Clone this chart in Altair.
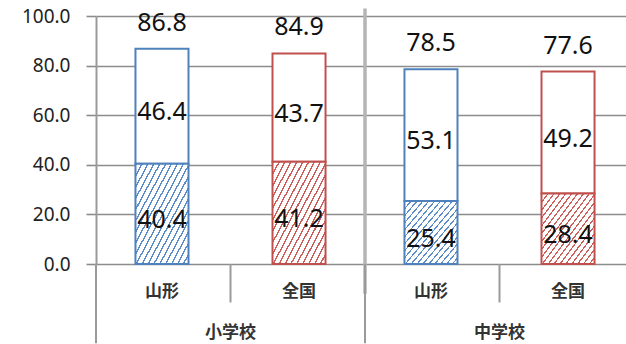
import altair as alt
import pandas as pd

schools = ["小学校", "小学校", "中学校", "中学校"]
regions = ["山形", "全国", "山形", "全国"]
lower_vals = [40.4, 41.2, 25.4, 28.4]
upper_vals = [46.4, 43.7, 53.1, 49.2]
total_vals = [86.8, 84.9, 78.5, 77.6]
school_order = ["小学校", "中学校"]
region_order = ["山形", "全国"]
y_ticks = [0, 10, 20, 30, 40, 50, 60, 70, 80, 90, 100]

BLUE = "#4f81bd"
RED = "#c0504d"
BLUE_HATCH = "#5b8cc9"
RED_HATCH = "#cc5f5c"

df = pd.DataFrame({
    "school": schools,
    "region": regions,
    "lower": lower_vals,
    "upper": upper_vals,
    "total": total_vals,
})
df["lower_mid"] = df["lower"] / 2
df["upper_mid"] = df["lower"] + df["upper"] / 2

schools_df = pd.DataFrame({"school": school_order})


def hatch(color, n=18, f=0.26):
    stops = []
    for k in range(n):
        a = k / n
        b = (k + f) / n
        c = (k + 1) / n
        stops += [
            alt.GradientStop(offset=a, color=color),
            alt.GradientStop(offset=b, color=color),
            alt.GradientStop(offset=b, color="white"),
            alt.GradientStop(offset=c, color="white"),
        ]
    return alt.LinearGradient(gradient="linear", stops=stops, x1=0, y1=0, x2=1, y2=1)


xscale = alt.Scale(domain=school_order, paddingInner=0, paddingOuter=0, range=[0, 538])
xs = alt.X("school:N", scale=xscale, axis=None)
xo = alt.XOffset("region:N", scale=alt.Scale(domain=region_order, paddingInner=0.613, paddingOuter=0.288))
ysc = alt.Scale(domain=[0, 100], nice=False, zero=True)

base = alt.Chart(df)

y_axis = alt.Axis(
    values=y_ticks,
    title=None,
    grid=True,
    gridColor={"expr": "datum.value % 20 == 0 ? '#8c8c8c' : '#c8c8c8'"},
    gridWidth=1.6,
    tickColor={"expr": "datum.value % 20 == 0 ? '#8c8c8c' : 'transparent'"},
    tickSize=10,
    tickWidth=1.6,
    labelExpr="datum.value % 20 == 0 ? format(datum.value, '.1f') : ''",
    labelFont="Noto Sans",
    labelFontSize=19,
    labelColor="#222222",
    labelPadding=16,
    domainColor="#9a9a9a",
    domainWidth=2,
)

color_scale = alt.Scale(domain=region_order, range=[BLUE, RED])

top_bars = base.mark_bar(fill="white", strokeWidth=2).encode(
    x=xs, xOffset=xo,
    y=alt.Y("lower:Q", scale=ysc, axis=y_axis),
    y2="total:Q",
    stroke=alt.Stroke("region:N", scale=color_scale, legend=None),
)

low_blue = base.transform_filter(alt.datum.region == "山形").mark_bar(
    fill=hatch(BLUE_HATCH), stroke=BLUE, strokeWidth=2
).encode(x=xs, xOffset=xo, y=alt.Y("lower:Q", scale=ysc), y2=alt.Y2(datum=0))

low_red = base.transform_filter(alt.datum.region == "全国").mark_bar(
    fill=hatch(RED_HATCH), stroke=RED, strokeWidth=2
).encode(x=xs, xOffset=xo, y=alt.Y("lower:Q", scale=ysc), y2=alt.Y2(datum=0))

txt_kw = dict(font="Noto Sans", fontSize=25, color="#111111", baseline="middle", align="center")

total_text = base.mark_text(dy=-26, **txt_kw).encode(
    x=xs, xOffset=xo, y=alt.Y("total:Q", scale=ysc), text=alt.Text("total:Q", format=".1f"))
upper_text = base.mark_text(dy=6, **txt_kw).encode(
    x=xs, xOffset=xo, y=alt.Y("upper_mid:Q", scale=ysc), text=alt.Text("upper:Q", format=".1f"))
lower_text = base.mark_text(dy=6, **txt_kw).encode(
    x=xs, xOffset=xo, y=alt.Y("lower_mid:Q", scale=ysc), text=alt.Text("lower:Q", format=".1f"))

cjk_kw = dict(font="Noto Sans CJK JP", fontSize=17, fontWeight="bold", color="#333333",
              baseline="middle", align="center")

region_text = base.mark_text(dy=28, **cjk_kw).encode(
    x=xs, xOffset=xo, y=alt.Y(datum=0, scale=ysc), text="region:N")

school_text = alt.Chart(schools_df).mark_text(dy=69, **cjk_kw).encode(
    x=xs, y=alt.Y(datum=0, scale=ysc), text="school:N")

# separators of the two-level category axis
sub_sep = alt.Chart(schools_df).mark_rule(color="#9a9a9a", strokeWidth=2).encode(
    x=alt.X("school:N", scale=xscale, bandPosition=0.5, axis=None),
    y=alt.Y(datum=0, scale=ysc), y2=alt.Y2(datum=-15.5))

left_line = alt.Chart(schools_df).transform_filter(alt.datum.school == "小学校").mark_rule(
    color="#9a9a9a", strokeWidth=2).encode(
    x=alt.X("school:N", scale=xscale, bandPosition=0, axis=None),
    y=alt.Y(datum=0, scale=ysc), y2=alt.Y2(datum=-32))

mid_line = alt.Chart(schools_df).transform_filter(alt.datum.school == "中学校").mark_rule(
    color="#b4b4b4", strokeWidth=3.5).encode(
    x=alt.X("school:N", scale=xscale, bandPosition=0, axis=None),
    y=alt.Y(datum=103, scale=ysc), y2=alt.Y2(datum=-12))

mid_line2 = alt.Chart(schools_df).transform_filter(alt.datum.school == "中学校").mark_rule(
    color="#9a9a9a", strokeWidth=2).encode(
    x=alt.X("school:N", scale=xscale, bandPosition=0, axis=None),
    y=alt.Y(datum=0, scale=ysc), y2=alt.Y2(datum=-32))

chart = alt.layer(
    top_bars, low_blue, low_red, left_line, mid_line, mid_line2, sub_sep,
    total_text, upper_text, lower_text, region_text, school_text,
).properties(
    width=530, height=248,
    padding={"left": 96, "top": 16, "right": 0, "bottom": 80},
    autosize=alt.AutoSizeParams(type="none"),
).configure_view(stroke=None).configure(background="white")

chart.save("out.html", embed_options={"renderer": "svg", "actions": False})
